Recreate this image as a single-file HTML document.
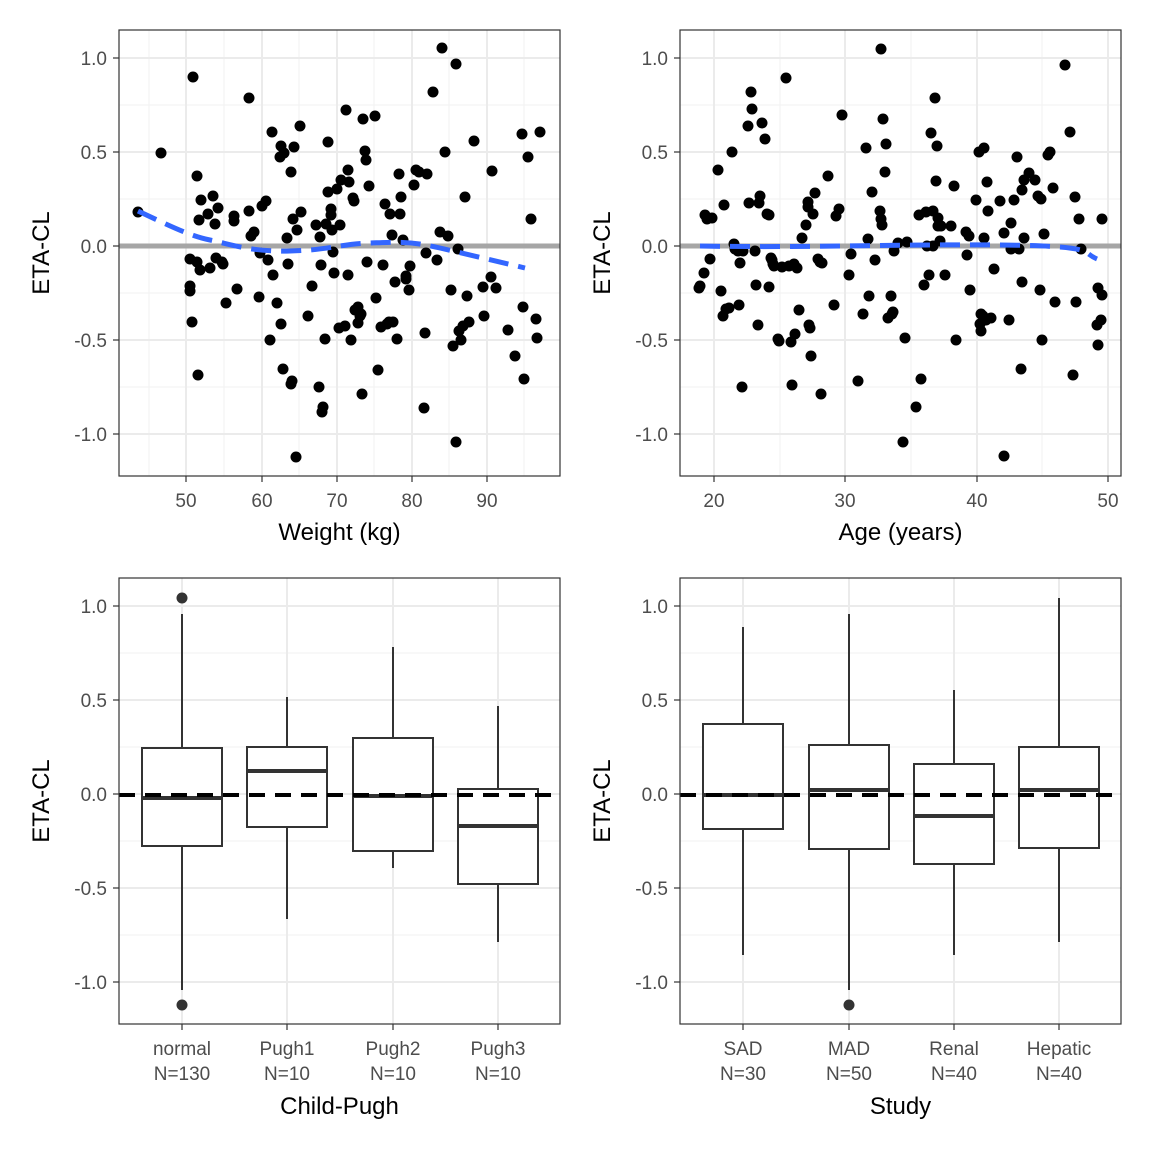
<!DOCTYPE html>
<html><head><meta charset="utf-8"><style>
body{margin:0;background:#fff}
text{font-family:"Liberation Sans","DejaVu Sans",sans-serif}
</style></head><body>
<svg id="s" width="1152" height="1152" xmlns="http://www.w3.org/2000/svg">
<rect width="1152" height="1152" fill="#fff"/>
<g id="g"></g>
</svg>
<script>
const NS="http://www.w3.org/2000/svg",G=document.getElementById('g');
function el(t,a,txt){const e=document.createElementNS(NS,t);for(const k in a)e.setAttribute(k,a[k]);if(txt!==undefined)e.textContent=txt;G.appendChild(e);return e;}
const yv=[1,0.5,0,-0.5,-1],yl=["1.0","0.5","0.0","-0.5","-1.0"];
function panel(x0,y0,xT,xlabels,xminor,xtitle,cat){
  const x1=x0+441,y1=y0+446,ybase=y0+28;
  // minor y
  for(let v=-1.25;v<=1.26;v+=0.5){const y=ybase+(1-v)*188;if(y>y0&&y<y1)el('line',{x1:x0,x2:x1,y1:y,y2:y,stroke:'#f2f2f2','stroke-width':1});}
  xminor.forEach(x=>el('line',{x1:x,x2:x,y1:y0,y2:y1,stroke:'#f2f2f2','stroke-width':1}));
  yv.forEach((v,i)=>{const y=ybase+(1-v)*188;el('line',{x1:x0,x2:x1,y1:y,y2:y,stroke:'#ebebeb','stroke-width':2});
    el('line',{x1:x0-6,x2:x0,y1:y,y2:y,stroke:'#333','stroke-width':1.2});
    el('text',{x:x0-12,y:y+7,'text-anchor':'end','font-size':19,fill:'#4d4d4d'},yl[i]);});
  xT.forEach((x,i)=>{el('line',{x1:x,x2:x,y1:y0,y2:y1,stroke:'#ebebeb','stroke-width':2});
    el('line',{x1:x,x2:x,y1:y1,y2:y1+6,stroke:'#333','stroke-width':1.2});
    if(cat){el('text',{x:x,y:y1+31,'text-anchor':'middle','font-size':19,fill:'#4d4d4d'},xlabels[i][0]);
      el('text',{x:x,y:y1+56,'text-anchor':'middle','font-size':19,fill:'#4d4d4d'},xlabels[i][1]);}
    else el('text',{x:x,y:y1+31,'text-anchor':'middle','font-size':19,fill:'#4d4d4d'},xlabels[i]);});
  el('text',{x:(x0+x1)/2,y:cat?y1+90:y1+64,'text-anchor':'middle','font-size':24,fill:'#000'},xtitle);
  el('text',{x:0,y:0,transform:`translate(${x0-70},${(y0+y1)/2}) rotate(-90)`,'text-anchor':'middle','font-size':24,fill:'#000'},'ETA-CL');
}
function frame(x0,y0){el('rect',{x:x0,y:y0,width:441,height:446,fill:'none',stroke:'#333','stroke-width':1.2});}
panel(119,30,[186,262,337,412,487],["50","60","70","80","90"],[149,224,299,374,449,524],"Weight (kg)");
panel(680,30,[714,845,977,1108],["20","30","40","50"],[780,911,1042],"Age (years)");
panel(119,578,[182,287,393,498],[["normal","N=130"],["Pugh1","N=10"],["Pugh2","N=10"],["Pugh3","N=10"]],[],"Child-Pugh",true);
panel(680,578,[743,849,954,1059],[["SAD","N=30"],["MAD","N=50"],["Renal","N=40"],["Hepatic","N=40"]],[],"Study",true);
// zero lines top
el('line',{x1:119,x2:560,y1:246,y2:246,stroke:'#a6a6a6','stroke-width':5});
el('line',{x1:680,x2:1121,y1:246,y2:246,stroke:'#a6a6a6','stroke-width':5});
const p1=[[138,212],[161,153],[193,77],[190,286],[190,291],[190,259],[192,322],[197,176],[198,375],[199,220],[200,270],[197,262],[201,200],[208,214],[213,196],[210,268],[216,258],[218,208],[215,224],[223,264],[222,262],[226,303],[234,216],[234,221],[237,289],[249,98],[249,211],[251,236],[254,232],[259,297],[260,253],[262,206],[266,201],[268,260],[270,340],[272,132],[273,275],[277,303],[280,157],[281,146],[281,324],[283,369],[284,153],[287,238],[288,264],[291,172],[291,384],[292,381],[293,219],[294,147],[296,457],[297,230],[300,126],[301,212],[308,316],[312,286],[316,225],[319,387],[320,237],[321,265],[322,412],[323,407],[325,339],[326,224],[328,142],[328,192],[331,215],[331,209],[332,230],[333,252],[334,273],[337,189],[339,328],[340,225],[341,180],[345,326],[346,110],[348,170],[349,182],[348,275],[351,340],[353,198],[354,201],[355,310],[358,307],[358,323],[360,316],[361,314],[362,394],[363,119],[365,151],[366,160],[367,262],[369,186],[375,116],[376,298],[378,370],[381,327],[383,265],[385,204],[387,324],[389,322],[390,214],[392,235],[393,322],[395,282],[397,339],[399,174],[401,197],[400,214],[403,240],[406,276],[406,279],[409,290],[410,266],[414,185],[416,170],[419,172],[424,408],[425,333],[426,253],[427,174],[433,92],[437,260],[440,232],[442,48],[445,152],[448,236],[451,290],[453,346],[456,64],[456,442],[458,249],[459,331],[461,340],[463,326],[465,197],[467,296],[469,322],[474,141],[483,287],[484,316],[492,171],[491,277],[496,288],[508,330],[515,356],[522,134],[523,307],[524,379],[528,157],[531,219],[536,319],[537,338],[540,132]];
const p2=[[699,288],[700,286],[705,215],[704,273],[707,219],[710,259],[712,218],[718,170],[721,291],[723,316],[724,205],[726,309],[729,308],[732,152],[734,244],[735,249],[738,251],[739,305],[740,263],[742,387],[743,251],[748,126],[749,203],[751,92],[752,109],[755,251],[756,285],[758,325],[759,203],[760,196],[762,123],[765,139],[767,214],[769,215],[769,287],[771,258],[772,260],[773,264],[774,266],[778,339],[779,341],[782,267],[786,78],[789,266],[791,342],[792,385],[794,264],[795,334],[797,268],[799,310],[802,238],[806,225],[808,202],[808,207],[809,325],[810,328],[811,356],[813,214],[815,193],[818,259],[820,262],[821,394],[822,263],[828,176],[834,305],[836,216],[839,209],[842,115],[849,275],[851,254],[858,381],[863,314],[866,148],[868,239],[869,296],[872,192],[875,260],[880,211],[881,219],[882,225],[881,49],[883,119],[885,172],[886,144],[888,318],[891,296],[892,314],[894,251],[893,312],[898,243],[903,442],[905,338],[907,242],[916,407],[919,215],[921,379],[924,285],[926,212],[927,246],[929,275],[931,133],[933,246],[933,211],[935,98],[936,181],[937,146],[938,226],[940,241],[938,218],[941,226],[945,275],[951,226],[954,186],[956,340],[966,232],[967,255],[969,236],[970,290],[976,200],[979,152],[980,324],[981,314],[981,331],[983,316],[984,148],[984,238],[986,320],[987,182],[988,211],[991,318],[994,269],[1000,201],[1004,233],[1009,320],[1011,223],[1011,249],[1004,456],[1014,200],[1017,157],[1019,249],[1021,369],[1022,190],[1022,282],[1024,238],[1024,180],[1029,173],[1035,180],[1038,196],[1040,290],[1041,199],[1042,340],[1044,234],[1048,155],[1050,152],[1053,188],[1055,302],[1065,65],[1070,132],[1073,375],[1075,197],[1076,302],[1079,219],[1081,249],[1097,325],[1098,288],[1098,345],[1101,320],[1102,295],[1102,219]];
p1.concat(p2).forEach(p=>el('circle',{cx:p[0],cy:p[1],r:5.5,fill:'#000'}));
el('path',{d:'M138,211 C170,226 190,236 210,240 S250,252 290,251 S340,244 370,243 S410,241 440,248 S500,262 525,268',fill:'none',stroke:'#3366ff','stroke-width':5,'stroke-dasharray':'20,10'});
el('path',{d:'M700,246 C800,248 900,244 1000,245 S1080,252 1097,259',fill:'none',stroke:'#3366ff','stroke-width':5,'stroke-dasharray':'20,10'});
// boxplots [cx,wtop,q3,med,q1,wbot,outliers]
const bx=[[182,614,748,798,846,990,[598,1005]],[287,697,747,771,827,919,[]],[393,647,738,796,851,868,[]],[498,706,789,826,884,942,[]],
[743,627,724,795,829,955,[]],[849,614,745,790,849,990,[1005]],[954,690,764,816,864,955,[]],[1059,598,747,790,848,942,[]]];
bx.forEach(b=>{const c=b[0];
  el('line',{x1:c,x2:c,y1:b[1],y2:b[2],stroke:'#333','stroke-width':2});
  el('line',{x1:c,x2:c,y1:b[4],y2:b[5],stroke:'#333','stroke-width':2});
  el('rect',{x:c-40,y:b[2],width:80,height:b[4]-b[2],fill:'#fff',stroke:'#333','stroke-width':2});
  el('line',{x1:c-40,x2:c+40,y1:b[3],y2:b[3],stroke:'#333','stroke-width':4});
  b[6].forEach(o=>el('circle',{cx:c,cy:o,r:5.5,fill:'#333'}));});
el('line',{x1:119,x2:560,y1:795,y2:795,stroke:'#000','stroke-width':4,'stroke-dasharray':'16,10'});
el('line',{x1:680,x2:1121,y1:795,y2:795,stroke:'#000','stroke-width':4,'stroke-dasharray':'16,10'});
frame(119,30);frame(680,30);frame(119,578);frame(680,578);
</script>
</body></html>
